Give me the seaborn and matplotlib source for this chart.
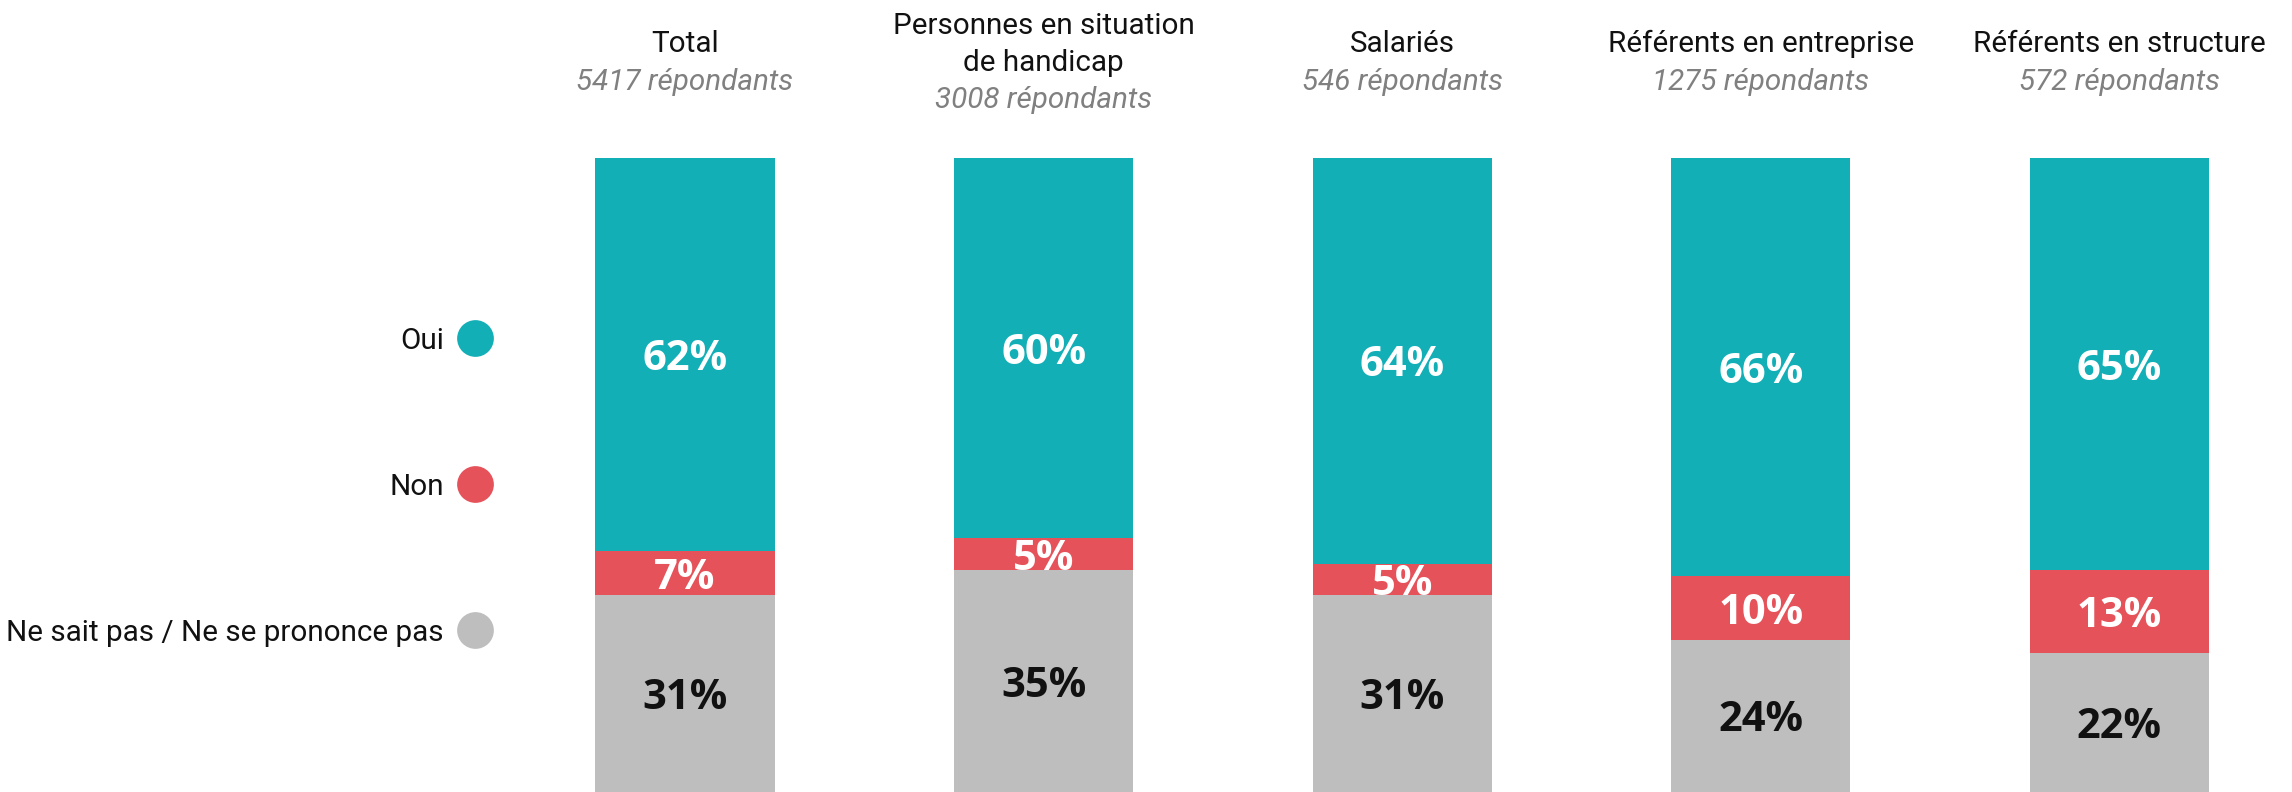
import matplotlib
matplotlib.use("Agg")
import matplotlib.pyplot as plt
import matplotlib.transforms as mtransforms
import seaborn as sns
import pandas as pd

# ---- data ----
groups = ["Total", "Personnes en situation\nde handicap", "Salariés",
          "Référents en entreprise", "Référents en structure"]
respondents = ["5417 répondants", "3008 répondants", "546 répondants",
               "1275 répondants", "572 répondants"]
answers = ["Oui", "Non", "Ne sait pas / Ne se prononce pas"]
oui = [62, 60, 64, 66, 65]
non = [7, 5, 5, 10, 13]
nsp = [31, 35, 31, 24, 22]

colors = {"Oui": "#13AFB7", "Non": "#E6525A", "Ne sait pas / Ne se prononce pas": "#BEBEBE"}
label_colors = {"Oui": "white", "Non": "white", "Ne sait pas / Ne se prononce pas": "#111111"}

sns.set_theme(style="white")
TXT = ["Roboto", "DejaVu Sans"]
BOLD = ["Open Sans", "DejaVu Sans"]
plt.rcParams["font.family"] = TXT

W, H = 2292, 792
fig = plt.figure(figsize=(W / 100, H / 100), dpi=100)
top_px = 158
ax = fig.add_axes([0, 0, 1, 1 - top_px / H])

df = pd.DataFrame({
    "group": groups,
    "oui": oui, "non": non, "nsp": nsp,
})
df["c_top"] = df["oui"] + df["non"] + df["nsp"]
df["c_mid"] = df["non"] + df["nsp"]
df["c_bot"] = df["nsp"]

for col, ans in [("c_top", "Oui"), ("c_mid", "Non"), ("c_bot", answers[2])]:
    sns.barplot(data=df, x="group", y=col, color=colors[ans], width=0.5,
                saturation=1, linewidth=0, ax=ax)

# percent labels
for i in range(len(groups)):
    segs = [(nsp[i] + non[i] + oui[i] / 2, oui[i], "Oui"),
            (nsp[i] + non[i] / 2, non[i], "Non"),
            (nsp[i] / 2, nsp[i], answers[2])]
    for y, v, ans in segs:
        ax.text(i, y, f"{v}%", ha="center", va="center_baseline",
                fontsize=30, fontweight="bold", family=BOLD,
                color=label_colors[ans])

spacing = 358.6
c0 = 685
ax.set_xlim(-c0 / spacing, (W - c0) / spacing)
ax.set_ylim(0, 100)
ax.axis("off")

# titles
FS = 21.3
trans = mtransforms.blended_transform_factory(ax.transData, fig.transFigure)
pitch = 37
for i, (g, r) in enumerate(zip(groups, respondents)):
    lines = g.split("\n")
    n = len(lines) + 1
    for k, ln in enumerate(lines + [r]):
        yc = 60 + (k - (n - 1) / 2) * pitch
        yb = yc + 11
        is_sub = k == n - 1
        ax.text(i, 1 - yb / H, ln, transform=trans, ha="center", va="baseline",
                fontsize=FS, color="#808080" if is_sub else "#111111",
                style="italic" if is_sub else "normal", family=TXT)

# legend
lx = (475 - c0) / spacing
leg_y = [(792 - 338) / 6.34, (792 - 484) / 6.34, (792 - 630) / 6.34]
for ans, y in zip(answers, leg_y):
    ax.scatter([lx], [y], s=700, color=colors[ans], linewidth=0, clip_on=False, zorder=5)
    ax.text(lx - 31 / spacing, y, ans, ha="right", va="center_baseline",
            fontsize=FS, color="#111111", family=TXT)

fig.savefig("out.png", dpi=100)
